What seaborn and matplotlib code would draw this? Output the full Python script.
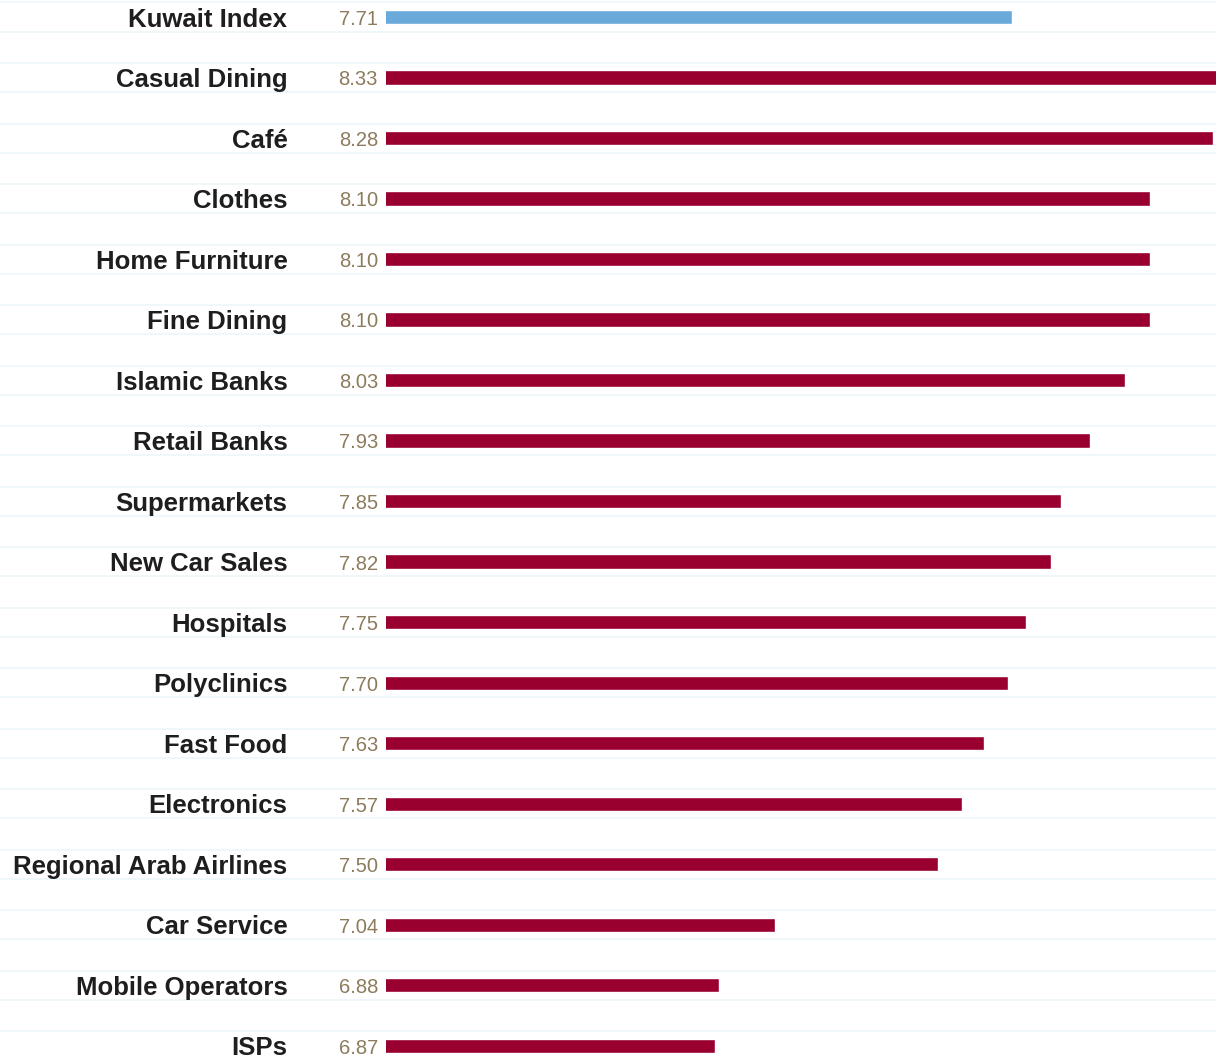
import numpy as np
import pandas as pd
import seaborn as sns
import matplotlib.pyplot as plt
from matplotlib.transforms import blended_transform_factory

# ===========================================================
# Données
# ===========================================================

categories = ["Kuwait Index", "Casual Dining", "Café", "Clothes", "Home Furniture",
              "Fine Dining", "Islamic Banks", "Retail Banks", "Supermarkets",
              "New Car Sales", "Hospitals", "Polyclinics", "Fast Food", "Electronics",
              "Regional Arab Airlines", "Car Service", "Mobile Operators", "ISPs"]
scores = [7.71, 8.33, 8.28, 8.10, 8.10, 8.10, 8.03, 7.93, 7.85,
          7.82, 7.75, 7.70, 7.63, 7.57, 7.50, 7.04, 6.88, 6.87]
groups = ["index"] + ["sector"] * 17

df = pd.DataFrame({"category": categories, "score": scores, "group": groups})

# ===========================================================
# Graphique
# ===========================================================

sns.set_style("white")
plt.rcParams['font.family'] = ['Liberation Sans', 'DejaVu Sans']

W, H = 1216, 1059
fig = plt.figure(figsize=(W / 100, H / 100), dpi=100)
ax = fig.add_axes([386 / W, 0, 1 - 386 / W, 1])

sns.barplot(data=df, y="category", x="score", hue="group",
            palette={"index": "#6aaadb", "sector": "#990030"}, saturation=1,
            width=0.235, dodge=False, legend=False, ax=ax)

x0 = 5.937
px_per_unit = 353
x1 = x0 + 830 / px_per_unit
ax.set_xlim(x0, x1)
ax.set_ylim(17.22, -0.281)

# lignes fines autour de chaque barre
left_fig = x0 - 386 / px_per_unit
for i in range(len(categories)):
    for dy in (-0.24, 0.24):
        ax.hlines(i + dy, left_fig, x1, color="#eef6fa",
                  lw=1.2, clip_on=False, zorder=0)

# étiquettes
ax.set_yticks(range(len(categories)))
ax.set_yticklabels(categories, fontsize=18.5, fontweight="bold", color="#1e1e1e")
ax.tick_params(axis="y", length=0, pad=71)
ax.set_xticks([])
ax.set_xlabel("")
ax.set_ylabel("")
for s in ax.spines.values():
    s.set_visible(False)

trans = blended_transform_factory(ax.transAxes, ax.transData)
for i, v in enumerate(scores):
    ax.text(-8 / 830, i + 0.04, f"{v:.2f}", transform=trans, ha="right", va="center",
            fontsize=14.5, color="#8c7b5c", clip_on=False)

fig.savefig("out.png", dpi=100)
